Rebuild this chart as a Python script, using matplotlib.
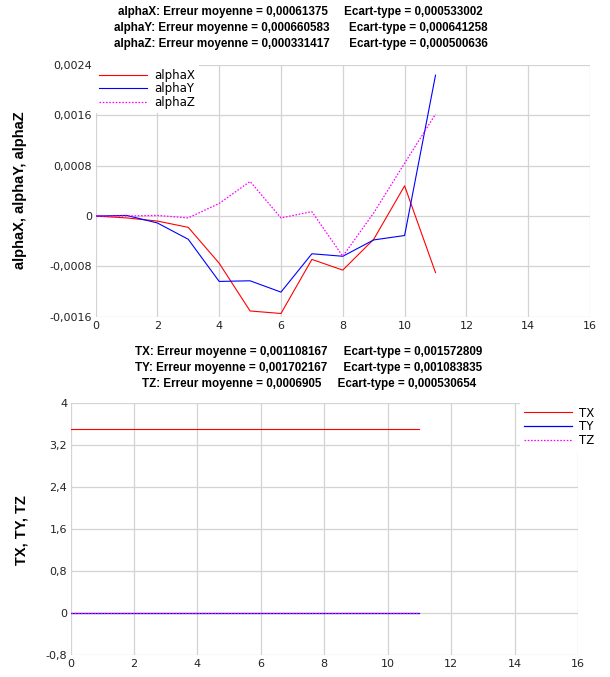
import matplotlib
matplotlib.use("Agg")
import matplotlib.pyplot as plt
from matplotlib.ticker import FuncFormatter

plt.rcParams['font.family'] = ['Liberation Sans', 'DejaVu Sans']

# ---- data ----
x_alpha = [0, 1, 2, 3, 4, 5, 6, 7, 8, 9, 10, 11]
alphaX = [0.0, -0.00003, -0.00008, -0.00018, -0.00075, -0.00151, -0.00155,
          -0.00069, -0.00086, -0.00037, 0.00048, -0.00090]
alphaY = [0.0, 0.00001, -0.00011, -0.00037, -0.00104, -0.00103, -0.00121,
          -0.00060, -0.00064, -0.00038, -0.00031, 0.00224]
alphaZ = [0.0, 0.0, 0.00001, -0.00003, 0.00020, 0.00055, -0.00003,
          0.00007, -0.00064, 0.00005, 0.00084, 0.00162]

x_T = [0, 1, 2, 3, 4, 5, 6, 7, 8, 9, 10, 11]
TX = [3.5, 3.5, 3.5, 3.5, 3.5, 3.5, 3.5, 3.5, 3.5, 3.5, 3.5, 3.5]
TY = [0.0] * 12
TZ = [0.0] * 12

title_top = ["alphaX: Erreur moyenne = 0,00061375     Ecart-type = 0,000533002",
             "alphaY: Erreur moyenne = 0,000660583      Ecart-type = 0,000641258",
             "alphaZ: Erreur moyenne = 0,000331417      Ecart-type = 0,000500636"]
title_bot = ["TX: Erreur moyenne = 0,001108167     Ecart-type = 0,001572809",
             "TY: Erreur moyenne = 0,001702167     Ecart-type = 0,001083835",
             "TZ: Erreur moyenne = 0,0006905     Ecart-type = 0,000530654"]

xticks = [0, 2, 4, 6, 8, 10, 12, 14, 16]
yticks_top = [-0.0016, -0.0008, 0, 0.0008, 0.0016, 0.0024]
yticks_bot = [-0.8, 0, 0.8, 1.6, 2.4, 3.2, 4]

RED = '#ff0000'
BLUE = '#0000ff'
MAG = '#ff00ff'
GRID = '#d3d3d3'


def comma_fmt(v, pos):
    if abs(v) < 1e-12:
        return "0"
    if abs(v) >= 0.1:
        s = ("%.1f" % v).rstrip('0').rstrip('.')
    else:
        s = ("%.4f" % v).rstrip('0').rstrip('.')
    return s.replace('.', ',')


fig = plt.figure(figsize=(6.10, 6.77), dpi=100)

ax1 = fig.add_axes([0.1566, 0.5323, 0.8107, 0.3715])
ax2 = fig.add_axes([0.1157, 0.0331, 0.8318, 0.3715])


def style(ax, yticks, ylim):
    ax.set_xlim(0, 16)
    ax.set_ylim(*ylim)
    ax.set_xticks(xticks)
    ax.set_yticks(yticks)
    ax.xaxis.set_major_formatter(FuncFormatter(lambda v, p: "%d" % v))
    ax.yaxis.set_major_formatter(FuncFormatter(comma_fmt))
    for s in ax.spines.values():
        s.set_visible(False)
    ax.tick_params(axis='y', length=0, colors='#222222', pad=2.5)
    ax.tick_params(axis='x', length=0, colors='#222222', pad=3)
    for lab in ax.get_xticklabels() + ax.get_yticklabels():
        lab.set_fontfamily('DejaVu Sans')
        lab.set_fontsize(8)
    ax.grid(True, color=GRID, lw=0.9)
    ax.set_axisbelow(True)


def legend(ax, anchor):
    leg = ax.legend(loc='upper left', bbox_to_anchor=anchor, frameon=True,
                    prop=dict(family='DejaVu Sans', size=8.5),
                    handlelength=4.1, handletextpad=0.6, borderpad=0.3,
                    labelspacing=0.06, borderaxespad=0.0, fancybox=False)
    fr = leg.get_frame()
    fr.set_facecolor('white')
    fr.set_edgecolor('none')
    fr.set_alpha(1.0)
    return leg


style(ax1, yticks_top, (-0.0016, 0.0024))
ax1.plot(x_alpha, alphaX, color=RED, lw=0.8, label='alphaX')
ax1.plot(x_alpha, alphaY, color=BLUE, lw=0.8, label='alphaY')
ax1.plot(x_alpha, alphaZ, color=MAG, lw=0.9, ls=(0, (1.3, 1.3)), label='alphaZ')
legend(ax1, (0.0, 1.0))

style(ax2, yticks_bot, (-0.8, 4))
ax2.plot(x_T, TX, color=RED, lw=0.8, label='TX')
ax2.plot(x_T, TY, color=BLUE, lw=0.9, label='TY')
ax2.plot(x_T, TZ, color=MAG, lw=0.9, ls=(0, (1.3, 1.3)), label='TZ')
legend(ax2, (0.886, 1.0))

fig.text(20 / 610, 1 - 190 / 677, "alphaX, alphaY, alphaZ", rotation=90,
         ha='center', va='center', fontsize=10.5, fontweight='bold')
fig.text(22 / 610, 1 - 530 / 677, "TX, TY, TZ", rotation=90,
         ha='center', va='center', fontsize=10.5, fontweight='bold')

for i, t in enumerate(title_top):
    fig.text(0.493, 1 - (12 + 16 * i) / 677, t, ha='center', va='center',
             fontsize=8.4, fontweight='bold')
for i, t in enumerate(title_bot):
    fig.text(0.506, 1 - (352 + 16 * i) / 677, t, ha='center', va='center',
             fontsize=8.4, fontweight='bold')

fig.savefig("out.png", dpi=100, facecolor='white')
